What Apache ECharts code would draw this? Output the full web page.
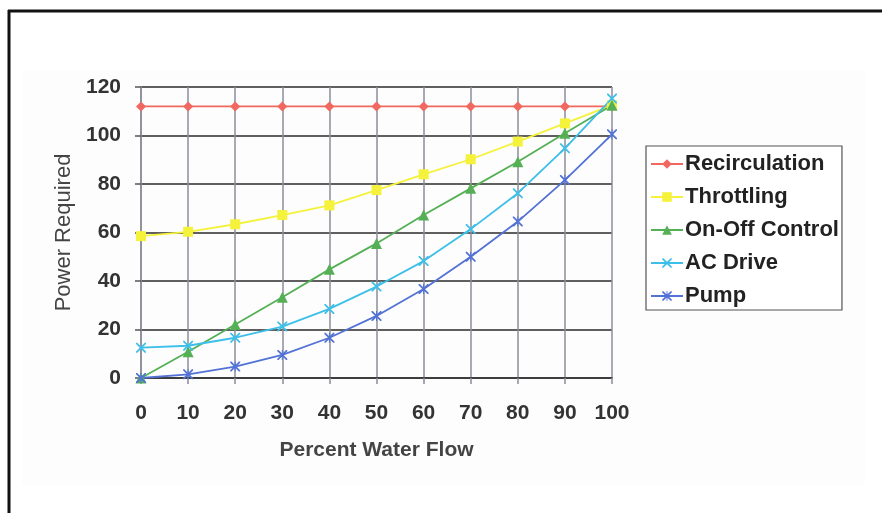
<!DOCTYPE html>
<html>
<head>
<meta charset="utf-8">
<script src="https://cdn.jsdelivr.net/npm/echarts@6/dist/echarts.min.js"></script>
<style>
  html, body { margin: 0; padding: 0; background: #ffffff; }
  #chart { width: 882px; height: 513px; }
</style>
</head>
<body>
<div id="chart"></div>
<script>
// Percent water flow (x) and power required by each control method (y)
const flow = [0, 10, 20, 30, 40, 50, 60, 70, 80, 90, 100];
const recirculation = [112, 112, 112, 112, 112, 112, 112, 112, 112, 112, 112];
const throttling = [58.5, 60.3, 63.4, 67.2, 71.2, 77.5, 84, 90.2, 97.5, 105, 112.5];
const onOffControl = [0, 10.8, 22.1, 33.3, 44.8, 55.5, 67.2, 78.2, 89.2, 100.9, 112.5];
const acDrive = [12.5, 13.3, 16.6, 21.2, 28.5, 37.7, 48.2, 61.4, 76.2, 94.7, 115.3];
const pump = [0, 1.5, 4.7, 9.5, 16.6, 25.6, 36.7, 50, 64.5, 81.6, 100.5];
const yTicks = [0, 20, 40, 60, 80, 100, 120];
const xTicks = [0, 10, 20, 30, 40, 50, 60, 70, 80, 90, 100];

// Thin-armed cross and asterisk markers
const xMark = 'path://M0,0L2.5,0L10,7.5L17.5,0L20,0L20,2.5L12.5,10L20,17.5L20,20L17.5,20L10,12.5L2.5,20L0,20L0,17.5L7.5,10L0,2.5Z';
const starMark = 'path://M0,0L2.5,0L10,7.5L17.5,0L20,0L20,2.5L12.5,10L20,17.5L20,20L17.5,20L10,12.5L2.5,20L0,20L0,17.5L7.5,10L0,2.5ZM9,0L11,0L11,20L9,20Z';

const pairs = arr => flow.map((x, i) => [x, arr[i]]);

function lineSeries(name, data, color, symbol, size) {
  return {
    name: name,
    type: 'line',
    data: pairs(data),
    symbol: symbol,
    symbolSize: size,
    lineStyle: { color: color, width: 1.8 },
    itemStyle: { color: color },
    emphasis: { disabled: true },
    z: 3
  };
}

const chart = echarts.init(document.getElementById('chart'));
const fontFamily = '"Liberation Sans", Arial, sans-serif';

chart.setOption({
  animation: false,
  backgroundColor: '#ffffff',
  graphic: [
    { type: 'rect', shape: { x: 22, y: 70, width: 843, height: 415 },
      style: { fill: '#fdfdfd' }, z: -10, silent: true },
    { type: 'line', shape: { x1: 8, y1: 11, x2: 882, y2: 11 },
      style: { stroke: '#111', lineWidth: 3 }, silent: true },
    { type: 'line', shape: { x1: 9, y1: 10, x2: 9, y2: 513 },
      style: { stroke: '#111', lineWidth: 3 }, silent: true }
  ],
  grid: { left: 141, right: 270, top: 87, bottom: 135, containLabel: false },
  xAxis: {
    type: 'value',
    min: xTicks[0],
    max: xTicks[xTicks.length - 1],
    interval: 10,
    name: 'Percent Water Flow',
    nameLocation: 'middle',
    nameGap: 62,
    nameTextStyle: { fontFamily: fontFamily, fontSize: 21, fontWeight: 'bold', color: '#444' },
    axisLine: { show: true, lineStyle: { color: '#333', width: 1.5 } },
    axisTick: { show: true, length: 6, lineStyle: { color: '#8c8c99', width: 1.5 } },
    axisLabel: { margin: 25, fontFamily: fontFamily, fontSize: 21, fontWeight: 'bold', color: '#333' },
    splitLine: { show: true, lineStyle: { color: '#8c8c99', width: 1.5 } }
  },
  yAxis: {
    type: 'value',
    min: yTicks[0],
    max: yTicks[yTicks.length - 1],
    interval: 20,
    name: 'Power Required',
    nameLocation: 'middle',
    nameGap: 63,
    nameTextStyle: { fontFamily: fontFamily, fontSize: 22, color: '#444' },
    axisLine: { show: true, lineStyle: { color: '#8c8c99', width: 1.5 } },
    axisTick: { show: true, length: 6, lineStyle: { color: '#555', width: 1.5 } },
    axisLabel: { margin: 20, fontFamily: fontFamily, fontSize: 21, fontWeight: 'bold', color: '#333' },
    splitLine: { show: true, lineStyle: { color: '#2a2a2a', width: 1.5 } }
  },
  legend: {
    orient: 'vertical',
    left: 646,
    top: 146,
    padding: [7, 3, 3, 4],
    itemGap: 11,
    itemWidth: 32,
    itemHeight: 12,
    backgroundColor: '#ffffff',
    borderColor: '#555',
    borderWidth: 1.2,
    borderRadius: 0,
    textStyle: { fontFamily: fontFamily, fontSize: 22, fontWeight: 'bold', color: '#222', padding: [0, 0, 0, -3] },
    data: ['Recirculation', 'Throttling', 'On-Off Control', 'AC Drive', 'Pump']
  },
  series: [
    lineSeries('Recirculation', recirculation, '#f06860', 'diamond', 10),
    lineSeries('Throttling', throttling, '#f4f23a', 'rect', 10),
    lineSeries('On-Off Control', onOffControl, '#55b055', 'triangle', 11),
    lineSeries('AC Drive', acDrive, '#3cbfe8', xMark, 10),
    lineSeries('Pump', pump, '#5272d6', starMark, 10)
  ]
});
</script>
</body>
</html>
